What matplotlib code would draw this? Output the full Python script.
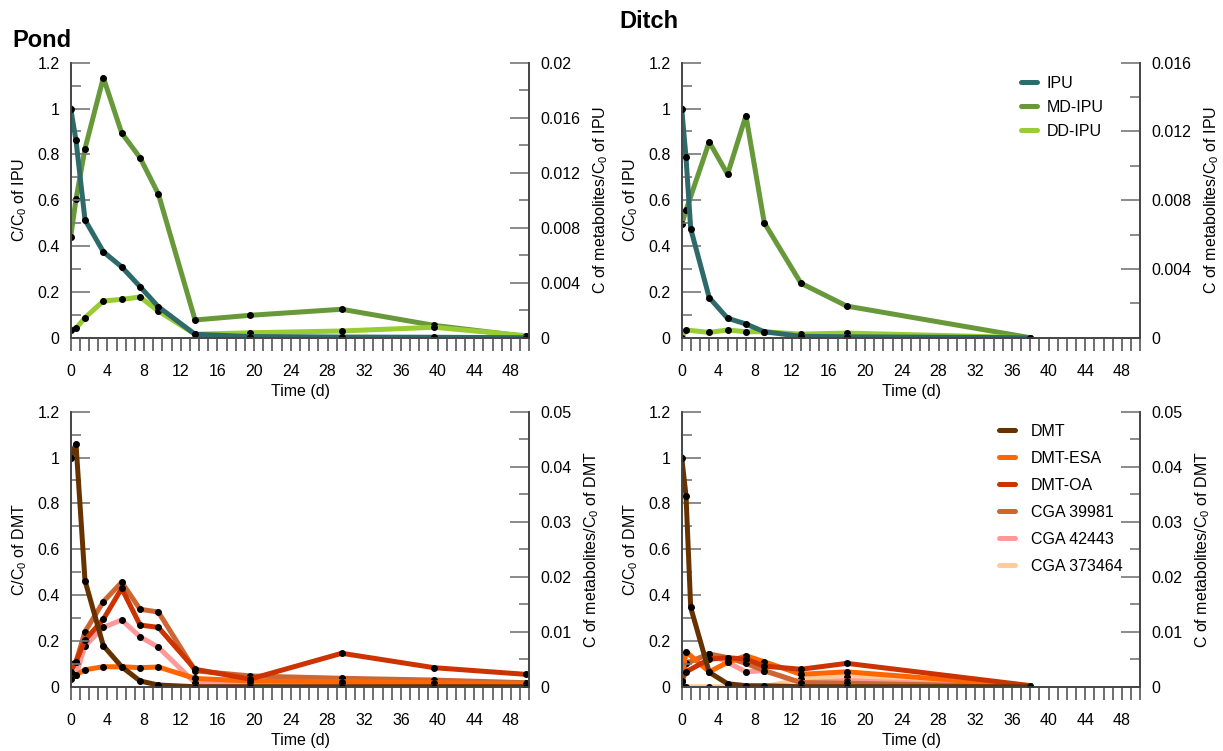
import matplotlib
matplotlib.use('Agg')
import matplotlib.pyplot as plt
from matplotlib.ticker import MultipleLocator, FuncFormatter

plt.rcParams['font.family'] = ['Liberation Sans', 'DejaVu Sans']
plt.rcParams['mathtext.default'] = 'regular'

# ---- data ----
# Pond, IPU
pond_t = [0, 0.58, 1.56, 3.56, 5.56, 7.56, 9.56, 13.56, 19.55, 29.55, 39.6, 49.6]
pond_ipu = [1.0, 0.861, 0.514, 0.375, 0.309, 0.223, 0.135, 0.015, 0.005, 0.003, 0.002, 0.0]
pond_md_ipu = [0.00735, 0.01007, 0.01375, 0.01891, 0.01489, 0.01309, 0.01045, 0.00129, 0.00163, 0.00207, 0.0009, 0.0001]
pond_dd_ipu = [0.00056, 0.00068, 0.00146, 0.00267, 0.00279, 0.00296, 0.00194, 0.00025, 0.00036, 0.00049, 0.00076, 0.00015]

# Ditch, IPU
ditch_t_ipu = [0, 0.47, 0.98, 3, 5, 7, 9, 13, 18, 38]
ditch_ipu = [1.0, 0.787, 0.476, 0.175, 0.085, 0.06, 0.026, 0.006, 0.004, 0.0]
ditch_t_met = [0, 0.47, 3, 5, 7, 9, 13, 18, 38]
ditch_md_ipu = [0.0066, 0.00741, 0.01139, 0.00951, 0.01292, 0.00669, 0.00317, 0.00184, 0.0]
ditch_dd_ipu = [0.0, 0.00045, 0.00031, 0.00045, 0.00035, 0.00035, 0.00021, 0.00027, 0.0]

# Pond, DMT
pond_dmt = [1.0, 1.059, 0.463, 0.179, 0.087, 0.025, 0.0074, 0, 0, 0, 0, 0]
pond_esa = [0.00133, 0.00213, 0.00308, 0.00363, 0.00363, 0.00346, 0.00358, 0.0015, 0.00104, 0.00092, 0.00073, 0.0005]
pond_oa = [0.00275, 0.00454, 0.0085, 0.01225, 0.01788, 0.01121, 0.01079, 0.00317, 0.00138, 0.00608, 0.00346, 0.00225]
pond_cga39981 = [0.0041, 0.00454, 0.01, 0.01546, 0.019, 0.01408, 0.01358, 0.0029, 0.00196, 0.00153, 0.00121, 0.00073]
pond_cga42443 = [0.00229, 0.00213, 0.00742, 0.01079, 0.01213, 0.00908, 0.00717, 0.00071, 0.0005, 0.00042, 0.00033, 0.00021]

# Ditch, DMT
ditch_dmt = [1.0, 0.834, 0.346, 0.063, 0.013, 0.0044, 0.004, 0, 0, 0]
ditch_esa = [0.00108, 0.00638, 0.00271, 0.00442, 0.00563, 0.00454, 0.00225, 0.00271, 0.0001]
ditch_oa = [0.00108, 0.00271, 0.0050, 0.00529, 0.0050, 0.00375, 0.00317, 0.00425, 0.0002]
ditch_cga39981 = [0.00108, 0.00425, 0.00596, 0.00529, 0.00425, 0.00292, 0.00075, 0.00063, 0.0]
ditch_cga42443 = [0.00363, 0.00425, 0.00596, 0.00442, 0.00271, 0.00292, 0.00075, 0.00108, 0.0]
ditch_cga373464 = [0, 0, 0, 0, 0, 0, 0.00133, 0.00183, 0]

c_ipu, c_md, c_dd = '#2f6a6b', '#67993a', '#99cc33'
c_dmt, c_esa, c_oa = '#663300', '#ff6600', '#cc3300'
c_39981, c_42443, c_373464 = '#cc6633', '#ff9999', '#ffcc99'

LW = 3.6
FS = 11.5
spine_c = '#444444'

fig = plt.figure(figsize=(12.23, 7.51), dpi=100)

def make_panel(rect, right_max, right_major, right_minor, ylab, rlab):
    ax = fig.add_axes(rect)
    tw = ax.twinx()
    # primary series drawn over the metabolite series
    ax.set_zorder(tw.get_zorder() + 1)
    ax.patch.set_visible(False)
    ax.set_xlim(0, 50)
    ax.set_ylim(0, 1.2)
    tw.set_ylim(0, right_max)
    ax.xaxis.set_major_locator(MultipleLocator(4))
    ax.xaxis.set_minor_locator(MultipleLocator(1))
    ax.yaxis.set_major_locator(MultipleLocator(0.2))
    ax.yaxis.set_minor_locator(MultipleLocator(0.1))
    tw.yaxis.set_major_locator(MultipleLocator(right_major))
    tw.yaxis.set_minor_locator(MultipleLocator(right_minor))
    fmt = FuncFormatter(lambda v, p: '%g' % round(v, 6))
    ax.yaxis.set_major_formatter(fmt)
    tw.yaxis.set_major_formatter(fmt)
    ax.tick_params(axis='y', which='major', direction='in', length=14, width=1.2, color='#777777', labelsize=FS, pad=8)
    ax.tick_params(axis='y', which='minor', direction='in', length=7, width=1.2, color='#777777')
    ax.tick_params(axis='x', which='both', direction='out', length=9, width=1.2, color='#555555', labelsize=FS, pad=10)
    tw.tick_params(axis='y', which='major', direction='in', length=14, width=1.2, color='#777777', labelsize=FS, pad=8)
    tw.tick_params(axis='y', which='minor', direction='in', length=7, width=1.2, color='#777777')
    for a in (ax, tw):
        a.spines['top'].set_visible(False)
        for s in ('left', 'right', 'bottom'):
            a.spines[s].set_color(spine_c)
            a.spines[s].set_linewidth(1.2)
    ax.set_xlabel('Time (d)', fontsize=FS, va='center')
    ax.xaxis.set_label_coords(0.5, -0.194)
    ax.set_ylabel(ylab, fontsize=FS, labelpad=6)
    tw.set_ylabel(rlab, fontsize=FS, labelpad=8)
    return ax, tw

def line(a, x, y, c, label):
    return a.plot(x, y, color=c, lw=LW, marker='o', ms=4, mfc='black', mec='black',
                  solid_joinstyle='round', label=label)[0]

def style_legend(leg):
    for lh in leg.get_lines():
        lh.set_marker('')
        lh.set_linewidth(LW)
        lh.set_solid_capstyle('round')

W, H = 0.375, 0.3662
rect_tl = [0.0578, 0.5503, W, H]
rect_tr = [0.5574, 0.5503, W, H]
rect_bl = [0.0578, 0.0856, W, H]
rect_br = [0.5574, 0.0856, W, H]

ylab_ipu = 'C/C$_0$ of IPU'
rlab_ipu = 'C of metabolites/C$_0$ of IPU'
ylab_dmt = 'C/C$_0$ of DMT'
rlab_dmt = 'C of metabolites/C$_0$ of DMT'

# Pond IPU
ax, tw = make_panel(rect_tl, 0.02, 0.004, 0.002, ylab_ipu, rlab_ipu)
line(tw, pond_t, pond_md_ipu, c_md, 'MD-IPU')
line(tw, pond_t, pond_dd_ipu, c_dd, 'DD-IPU')
line(ax, pond_t, pond_ipu, c_ipu, 'IPU')

# Ditch IPU
ax, tw = make_panel(rect_tr, 0.016, 0.004, 0.002, ylab_ipu, rlab_ipu)
h_md = line(tw, ditch_t_met, ditch_md_ipu, c_md, 'MD-IPU')
h_dd = line(tw, ditch_t_met, ditch_dd_ipu, c_dd, 'DD-IPU')
h_ipu = line(ax, ditch_t_ipu, ditch_ipu, c_ipu, 'IPU')
leg = ax.legend([h_ipu, h_md, h_dd], ['IPU', 'MD-IPU', 'DD-IPU'], loc='upper left',
                bbox_to_anchor=(1021 / 1223, 1 - 76 / 751), bbox_transform=fig.transFigure,
                frameon=False, fontsize=FS, handlelength=1.0, handletextpad=0.6,
                labelspacing=0.55, borderpad=0, borderaxespad=0)
style_legend(leg)

# Pond DMT
ax, tw = make_panel(rect_bl, 0.05, 0.01, 0.005, ylab_dmt, rlab_dmt)
line(tw, pond_t, pond_cga42443, c_42443, 'CGA 42443')
line(tw, pond_t, pond_cga39981, c_39981, 'CGA 39981')
line(tw, pond_t, pond_esa, c_esa, 'DMT-ESA')
line(tw, pond_t, pond_oa, c_oa, 'DMT-OA')
line(ax, pond_t, pond_dmt, c_dmt, 'DMT')

# Ditch DMT
ax, tw = make_panel(rect_br, 0.05, 0.01, 0.005, ylab_dmt, rlab_dmt)
h6 = line(tw, ditch_t_met, ditch_cga373464, c_373464, 'CGA 373464')
h5 = line(tw, ditch_t_met, ditch_cga42443, c_42443, 'CGA 42443')
h4 = line(tw, ditch_t_met, ditch_cga39981, c_39981, 'CGA 39981')
h2 = line(tw, ditch_t_met, ditch_esa, c_esa, 'DMT-ESA')
h3 = line(tw, ditch_t_met, ditch_oa, c_oa, 'DMT-OA')
h1 = line(ax, ditch_t_ipu, ditch_dmt, c_dmt, 'DMT')
leg = ax.legend([h1, h2, h3, h4, h5, h6],
                ['DMT', 'DMT-ESA', 'DMT-OA', 'CGA 39981', 'CGA 42443', 'CGA 373464'],
                loc='upper left', bbox_to_anchor=(999 / 1223, 1 - 424 / 751),
                bbox_transform=fig.transFigure, frameon=False, fontsize=FS,
                handlelength=1.0, handletextpad=1.0, labelspacing=0.75,
                borderpad=0, borderaxespad=0)
style_legend(leg)

fig.text(12 / 1223, 1 - 47 / 751, 'Pond', fontsize=17, fontweight='bold', ha='left', va='baseline')
fig.text(649 / 1223, 1 - 28 / 751, 'Ditch', fontsize=17, fontweight='bold', ha='center', va='baseline')

fig.savefig('out.png', dpi=100)
